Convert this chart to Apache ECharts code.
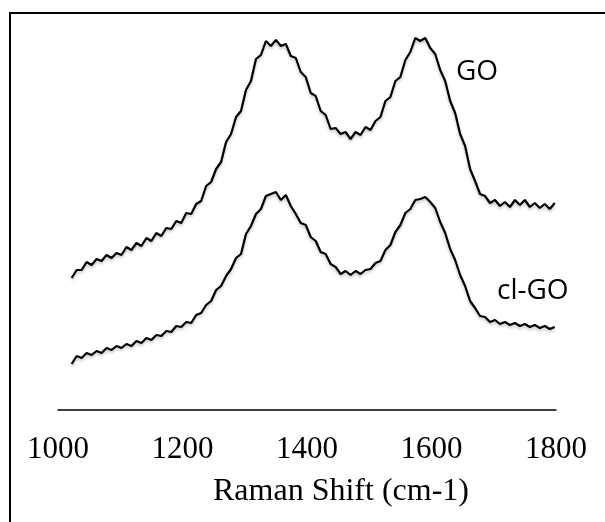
<!DOCTYPE html>
<html>
<head>
    <meta charset="utf-8">
    <title>Raman</title>
    <script src="https://cdn.jsdelivr.net/npm/echarts@6/dist/echarts.min.js"></script>
    <style>
        html, body { margin: 0; padding: 0; background: #fff; }
        #main { width: 605px; height: 522px; }
    </style>
</head>
<body>
    <div id="main"></div>
    <script type="text/javascript">
// raman shift (cm-1), shared by both spectra
var shift = [1022,1030,1038,1046,1054,1062,1070,1078,1086,1094,1102,1110,1118,1126,1134,1142,1150,1158,1166,1174,
             1182,1190,1198,1206,1214,1222,1230,1238,1246,1254,1262,1270,1278,1286,1294,1302,1310,1318,1326,1334,
             1342,1350,1358,1366,1374,1382,1390,1398,1406,1414,1422,1430,1438,1446,1454,1462,1470,1478,1486,1494,
             1502,1510,1518,1526,1534,1542,1550,1558,1566,1574,1582,1590,1598,1606,1614,1622,1630,1638,1646,1654,
             1662,1670,1678,1686,1694,1702,1710,1718,1726,1734,1742,1750,1758,1766,1774,1782,1790,1798];

// intensity (arb. units, offset spectra)
var go = [132,140,140,148,145,151,149,155,152,157,155,163,160,167,164,172,169,177,174,182,
          181,189,187,197,196,206,209,224,228,241,248,268,276,293,299,320,329,351,355,369,
          364,370,364,366,354,352,338,333,317,314,299,295,281,282,276,278,271,278,275,283,
          280,289,293,309,313,329,333,350,358,372,369,372,362,356,340,329,309,297,276,264,
          241,229,216,214,207,210,204,208,203,210,205,210,203,207,202,206,201,207];

var clgo = [46,54,52,57,55,59,57,62,60,64,62,66,64,69,67,72,70,75,74,79,
            78,84,83,88,87,95,97,105,109,120,124,134,141,152,156,176,184,196,201,214,
            216,218,210,215,204,196,187,185,173,169,158,156,146,143,136,139,135,139,136,140,
            141,147,149,160,165,178,185,197,201,210,211,213,208,202,188,177,161,150,135,124,
            109,102,94,93,88,90,86,88,85,87,84,86,83,85,82,84,81,83];

var seriesNames = ['GO', 'cl-GO'];
var xTicks = [1000, 1200, 1400, 1600, 1800];

function pairs(xs, ys){ return xs.map(function (x, i) { return [x, ys[i]]; }); }

var myChart = echarts.init(document.getElementById('main'));

var lineStyle = {
    color: '#000',
    width: 2.2,
    shadowColor: 'rgba(0,0,0,0.25)',
    shadowBlur: 3,
    shadowOffsetY: 2
};

var option = {
    animation: false,
    backgroundColor: '#fff',
    grid: { left: 58, right: 49, top: 10, bottom: 112 },
    title: {
        text: 'Raman Shift (cm-1)',
        left: 208,
        top: 471,
        textStyle: { fontFamily: 'Liberation Serif', fontSize: 32, fontWeight: 'normal', color: '#000' }
    },
    xAxis: {
        type: 'value',
        min: xTicks[0],
        max: xTicks[xTicks.length - 1],
        interval: 200,
        axisLine: { lineStyle: { color: '#000', width: 1.5 } },
        axisTick: { show: false },
        splitLine: { show: false },
        axisLabel: {
            margin: 24,
            fontFamily: 'Liberation Serif',
            fontSize: 31,
            color: '#000',
            formatter: function (v) { return String(v); }
        }
    },
    yAxis: {
        type: 'value',
        min: 0,
        max: 400,
        show: false
    },
    series: [
        { name: seriesNames[0], type: 'line', data: pairs(shift, go), symbol: 'none', lineStyle: lineStyle },
        { name: seriesNames[1], type: 'line', data: pairs(shift, clgo), symbol: 'none', lineStyle: lineStyle }
    ],
    graphic: [
        { type: 'rect', shape: { x: 10, y: 13, width: 700, height: 700 }, style: { fill: 'none', stroke: '#000', lineWidth: 2 } },
        { type: 'text', x: 456, y: 58, style: { text: seriesNames[0], font: '28px "Open Sans"', fill: '#000' } },
        { type: 'text', x: 497, y: 277, style: { text: seriesNames[1], font: '28px "Open Sans"', fill: '#000' } }
    ]
};

myChart.setOption(option);
    </script>
</body>
</html>
